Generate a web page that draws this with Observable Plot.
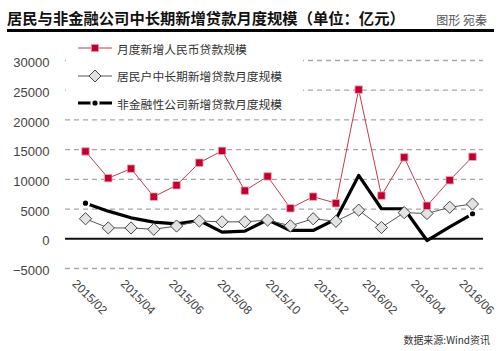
<!DOCTYPE html>
<html><head><meta charset="utf-8">
<script src="https://cdn.jsdelivr.net/npm/d3@7"></script>
<script src="https://cdn.jsdelivr.net/npm/@observablehq/plot@0.6"></script>
<style>
body{margin:0;background:#fff;}
#wrap{position:relative;width:500px;height:351px;overflow:hidden;font-family:"Noto Sans CJK SC","Liberation Sans",sans-serif;background:#fff;}
#chart{position:absolute;left:0;top:0;}
#title{position:absolute;left:7px;top:9px;font-size:15.3px;line-height:16px;font-weight:bold;color:#111;white-space:nowrap;}
#credit{position:absolute;right:13px;top:13px;font-size:12px;line-height:14px;color:#555;white-space:nowrap;}
#rule{position:absolute;left:7px;top:29px;width:487px;height:2.6px;background:#000;}
#legend{position:absolute;left:66px;top:36px;width:237px;height:78px;background:#fff;}
.li{position:absolute;left:12px;height:16px;display:flex;align-items:center;font-size:11.8px;color:#333;white-space:nowrap;}
.li svg{width:34px;height:16px;margin-right:5px;flex:none;}
#source{position:absolute;right:10px;top:333px;font-size:10px;line-height:13px;color:#333;white-space:nowrap;}
</style></head><body>
<div id="wrap">
  <div id="chart"></div>
  <div id="title">居民与非金融公司中长期新增贷款月度规模（单位：亿元）</div>
  <div id="credit">图形 宛秦</div>
  <div id="rule"></div>
  <div id="legend"></div>
  <div id="source">数据来源:Wind资讯</div>
</div>
<script>
// Months (2015/01 – 2016/06)
const months = ["2015/01","2015/02","2015/03","2015/04","2015/05","2015/06","2015/07","2015/08","2015/09",
  "2015/10","2015/11","2015/12","2016/01","2016/02","2016/03","2016/04","2016/05","2016/06"];
// 月度新增人民币贷款规模
const rmbLoans = [14700,10200,11800,7079,9008,12800,14800,8096,10500,5136,7089,5978,25100,7266,13700,5556,9855,13800];
// 居民户中长期新增贷款月度规模
const householdLoans = [3370,1830,1820,1600,2150,3000,2850,2850,3150,2180,3370,2940,4820,1900,4400,4250,5300,5850];
// 非金融性公司新增贷款月度规模
const corporateLoans = [5990,4650,3530,2800,2520,3080,1110,1280,3200,1400,1400,3300,10660,5050,5050,-290,2020,4210];
// axis tick labels
const xTickLabels = ["2015/02","2015/04","2015/06","2015/08","2015/10","2015/12","2016/02","2016/04","2016/06"];
const yTicks = [-5000,0,5000,10000,15000,20000,25000,30000];
const seriesNames = ["月度新增人民币贷款规模","居民户中长期新增贷款月度规模","非金融性公司新增贷款月度规模"];

const rows = months.map((m,i)=>({i, m, rmb: rmbLoans[i], hh: householdLoans[i], corp: corporateLoans[i]}));
const last = months.length - 1;
const tickPos = xTickLabels.map((t,k)=>k*last/(xTickLabels.length-1));
const fmt = d => d < 0 ? "−" + Math.abs(d) : String(d);
const numFont = "'Liberation Sans', Arial, sans-serif";

const chart = Plot.plot({
  width: 500, height: 351,
  marginTop: 60, marginBottom: 83, marginLeft: 65, marginRight: 17,
  x: {domain: [0, last], insetLeft: 20, insetRight: 11, axis: null},
  y: {domain: [-5000, 30000], axis: null},
  style: {fontFamily: numFont, background: "transparent"},
  marks: [
    Plot.ruleY(yTicks.filter(d => d !== 0), {stroke: "#a8a8a8", strokeWidth: 1.3, strokeDasharray: "5,4"}),
    Plot.ruleY([0], {stroke: "#111", strokeWidth: 2}),
    Plot.text(yTicks, {y: d => d, text: fmt, frameAnchor: "left", textAnchor: "end", dx: -16, dy: 2.5, fontSize: 13, fill: "#444"}),
    Plot.text(xTickLabels, {x: (d,k) => tickPos[k], text: d => d, frameAnchor: "bottom", rotate: 45, textAnchor: "start", dx: -14, dy: 16, fontSize: 12, fill: "#444"}),
    Plot.line(rows, {x: "i", y: "corp", curve: "linear", stroke: "#000", strokeWidth: 3.2, strokeLinejoin: "round"}),
    Plot.dot([rows[0], rows[last]], {x: "i", y: "corp", r: 3.6, fill: "#000", stroke: "#fff", strokeWidth: 2}),
    Plot.line(rows, {x: "i", y: "hh", stroke: "#555", strokeWidth: 1}),
    Plot.dot(rows, {x: "i", y: "hh", symbol: "diamond2", r: 5.5, fill: "#e3e3e3", stroke: "#444", strokeWidth: 1}),
    Plot.line(rows, {x: "i", y: "rmb", stroke: "#c43a4c", strokeWidth: 1}),
    Plot.dot(rows, {x: "i", y: "rmb", symbol: "square", r: 4.2, fill: "#c10030", stroke: "#eea7b1", strokeWidth: 0.8})
  ]
});
document.getElementById("chart").appendChild(chart);

// legend
const sym = [
  `<svg viewBox="0 0 34 16"><line x1="0" y1="8" x2="34" y2="8" stroke="#c43a4c" stroke-width="1"/><rect x="13.3" y="4.3" width="7.4" height="7.4" fill="#c10030" stroke="#eea7b1" stroke-width="0.8"/></svg>`,
  `<svg viewBox="0 0 34 16"><line x1="0" y1="8" x2="34" y2="8" stroke="#555" stroke-width="1"/><path d="M17 2 L23 8 L17 14 L11 8 Z" fill="#e3e3e3" stroke="#444" stroke-width="1"/></svg>`,
  `<svg viewBox="0 0 34 16"><line x1="0" y1="8" x2="34" y2="8" stroke="#000" stroke-width="3.2"/><circle cx="17" cy="8" r="3.6" fill="#000" stroke="#fff" stroke-width="2"/></svg>`
];
const tops = [4, 31.5, 59];
const lg = document.getElementById("legend");
seriesNames.forEach((n,k)=>{
  const d = document.createElement("div");
  d.className = "li";
  d.style.top = tops[k] + "px";
  d.innerHTML = sym[k] + `<span>${n}</span>`;
  lg.appendChild(d);
});
</script>
</body></html>
